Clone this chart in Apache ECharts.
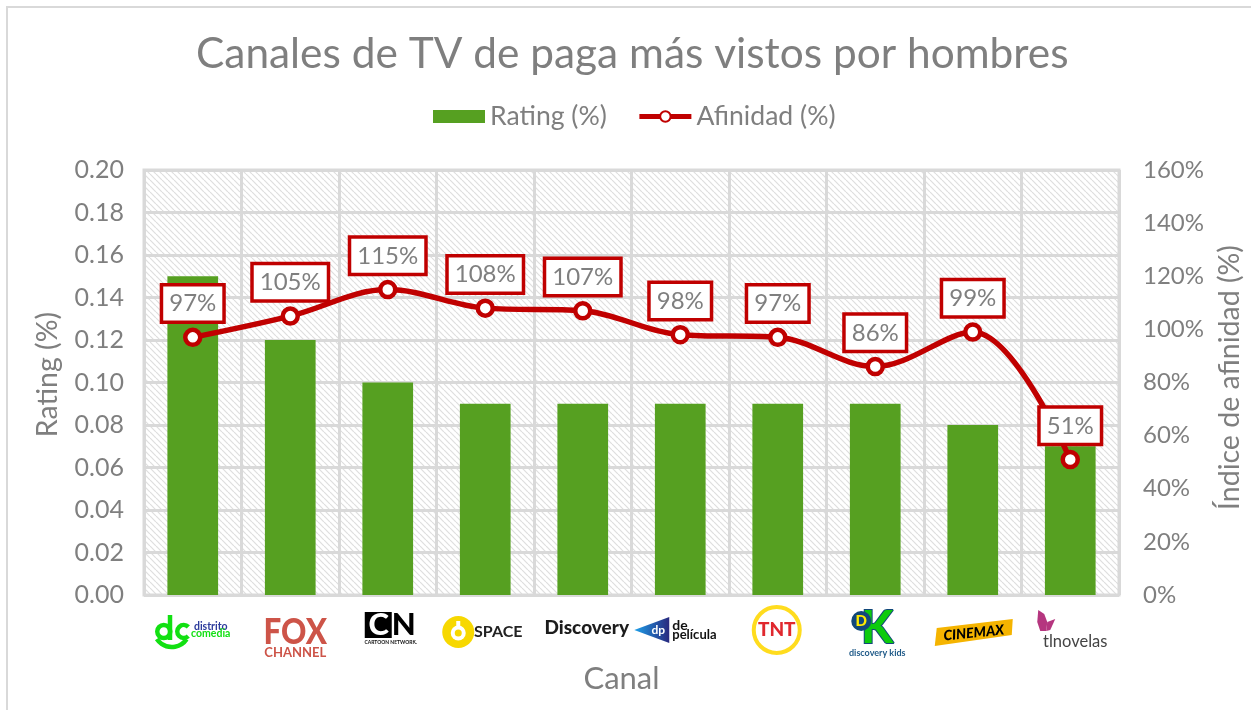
<!DOCTYPE html>
<html><head><meta charset="utf-8">
<style>html,body{margin:0;padding:0;background:#fff}#c{width:1251px;height:710px}</style>
<script src="https://cdn.jsdelivr.net/npm/echarts@6/dist/echarts.min.js"></script>
</head><body><div id="c"></div>
<script>
const categories = ['distrito comedia','FOX CHANNEL','Cartoon Network','SPACE','Discovery','de película','TNT','discovery kids','CINEMAX','tlnovelas'];
const rating = [0.15,0.12,0.10,0.09,0.09,0.09,0.09,0.09,0.08,0.07];
const afinidad = [97,105,115,108,107,98,97,86,99,51];
const FONT = 'Lato, "Open Sans", sans-serif';
const GRAY = '#7f7f7f';
const RED = '#C00000';

function hatch(){
  const s=6,c=document.createElement('canvas');c.width=s;c.height=s;
  const g=c.getContext('2d');g.fillStyle='#fff';g.fillRect(0,0,s,s);
  g.strokeStyle='#dedede';g.lineWidth=1.2;
  [[-s,0],[0,0],[s,0]].forEach(o=>{g.beginPath();g.moveTo(o[0],0);g.lineTo(o[0]+s,s);g.stroke();});
  return c;
}
const T=(text,x,y,size,fill,weight,extra)=>Object.assign({type:'text',x,y,style:Object.assign({text,fill,
  font:(weight||'normal')+' '+size+'px '+FONT,textAlign:'center',textVerticalAlign:'middle'},extra&&extra.style||{})},extra&&extra.el||{});
const C=(cx,cy,r,style)=>({type:'circle',shape:{cx,cy,r},style});
const P=(points,fill)=>({type:'polygon',shape:{points},style:{fill}});
const A=(cx,cy,r,a,b,stroke,w)=>({type:'arc',shape:{cx,cy,r,startAngle:a,endAngle:b},style:{stroke,lineWidth:w,fill:'none'}});
const R=(x,y,width,height,fill)=>({type:'rect',shape:{x,y,width,height},style:{fill}});
const DC='#12E012';
const logos=[
 ()=>[C(-29,36.5,6.5,{fill:'none',stroke:DC,lineWidth:4.5}),R(-25,20,4.5,25,DC),
      A(-9,36.5,6.5,0.8,5.5,DC,4.5),A(-21,34,18,0.6,2.55,DC,4.5),
      T('distrito',18,32,10.5,'#2B3A9B','bold'),T('comedia',18,39,10.5,DC,'bold')],
 ()=>[T('FOX',5,37,33,'#CD5448','900',{el:{scaleX:0.95,scaleY:1.1}}),T('CHANNEL',5,58,13,'#CD5448','bold')],
 ()=>[R(-23,17,27,26,'#000'),T('C',-9,30,31,'#fff','900'),T('N',16,30,31,'#000','900'),
      T('CARTOON NETWORK.',3,47,5,'#111','bold')],
 ()=>[C(-27,37,16,{fill:'#F7D800'}),C(-27,38,7.5,{fill:'#fff'}),R(-29,26,4,8,'#fff'),C(-27,38,3.5,{fill:'#F7D800'}),
      T('SPACE',13,37,16,'#222','bold')],
 ()=>[T('Discovery',4,33,19,'#1c1c1c','900')],
 ()=>[{type:'polygon',shape:{points:[[-46,35],[-11,22],[-11,48]]},
       style:{fill:new echarts.graphic.LinearGradient(0,0,1,0,[{offset:0,color:'#1EA0EA'},{offset:1,color:'#28287E'}])}},
      T('dp',-22,35,12,'#fff','bold'),
      T('de',-8,30,14,'#111','bold',{style:{textAlign:'left'}}),T('película',-8,40,13,'#111','bold',{style:{textAlign:'left'}})],
 ()=>[C(-1,35,23,{fill:'#fff',stroke:'#FFDC1E',lineWidth:4}),T('TNT',-1,35,19,'#E0282E','900')],
 ()=>[T('K',2,33,46,'#0DCB0D','900',{style:{stroke:'#12487A',lineWidth:2}}),
      C(-14,26,10,{fill:'#12487A'}),T('D',-14,26,15,'#FFEB00','900'),
      T('discovery kids',2,58,9,'#1F5A88','bold')],
 ()=>[P([[-38,51],[-36,33],[40,24],[39,40]],'#F5B400'),
      T('CINEMAX',1,38,14,'#000','900',{el:{rotation:0.1},style:{font:'italic 900 14px '+FONT}})],
 ()=>[P([[-32,15],[-26,19],[-23,27],[-24,36],[-30,36],[-33,27]],'#B5367F'),
      P([[-15,24],[-20,35],[-24,36],[-23,27]],'#B5367F'),
      T('tlnovelas',5,47,16.5,'#444','normal')]
];

const chart=echarts.init(document.getElementById('c'),null,{renderer:'canvas'});
chart.setOption({
  animation:false,
  backgroundColor:'#fff',
  graphic:[{type:'rect',z:-1,shape:{x:7,y:7,width:1400,height:900},style:{fill:'none',stroke:'#d9d9d9',lineWidth:2}}],
  title:{text:'Canales de TV de paga más vistos por hombres',left:191,top:28,
    textStyle:{fontFamily:FONT,fontSize:42.4,fontWeight:'normal',color:GRAY}},
  legend:{left:428,top:98,itemWidth:52,itemHeight:13,itemGap:30,
    data:[{name:'Rating (%)',icon:'rect'},{name:'Afinidad (%)'}],
    lineStyle:{width:5},
    textStyle:{fontFamily:FONT,fontSize:26.6,color:GRAY}},
  grid:{left:144,right:132,top:170,bottom:115,outerBoundsMode:'none',show:true,borderColor:'#d9d9d9',borderWidth:3,
    backgroundColor:{image:hatch(),repeat:'repeat'}},
  xAxis:{type:'category',data:categories,name:'Canal',nameLocation:'middle',nameGap:68,
    nameTextStyle:{fontFamily:FONT,fontSize:31,color:GRAY,padding:[0,20,0,0]},
    axisLine:{show:false},axisTick:{show:false},axisLabel:{show:false},
    splitLine:{show:true,interval:0,lineStyle:{color:'#d9d9d9',width:3}}},
  yAxis:[
   {type:'value',min:0,max:0.2,interval:0.02,name:'Rating (%)',nameLocation:'middle',nameGap:82,nameRotate:90,
    nameTextStyle:{fontFamily:FONT,fontSize:28.5,color:GRAY,padding:[0,0,0,16]},
    axisLine:{show:false},axisTick:{show:false},
    axisLabel:{margin:20,fontFamily:FONT,fontSize:25,color:GRAY,formatter:v=>v.toFixed(2)},
    splitLine:{lineStyle:{color:'#d9d9d9',width:3}}},
   {type:'value',min:0,max:160,interval:20,name:'Índice de afinidad (%)',nameLocation:'middle',nameGap:93,nameRotate:90,
    nameTextStyle:{fontFamily:FONT,fontSize:28.5,color:GRAY,padding:[0,0,0,10]},
    axisLine:{show:false},axisTick:{show:false},
    axisLabel:{margin:24,fontFamily:FONT,fontSize:24,color:GRAY,formatter:'{value}%'},
    splitLine:{show:false}}
  ],
  series:[
   {name:'Rating (%)',type:'bar',data:rating,barWidth:'52%',itemStyle:{color:'#56A021'}},
   {name:'Afinidad (%)',type:'line',yAxisIndex:1,data:afinidad,smooth:0.35,symbol:'circle',symbolSize:15,showAllSymbol:true,
    lineStyle:{color:RED,width:5.5},itemStyle:{color:'#fff',borderColor:RED,borderWidth:4.5},
    label:{show:true,position:'top',distance:7,formatter:'{c}%',fontFamily:FONT,fontSize:24,color:GRAY,
      backgroundColor:'#fff',borderColor:RED,borderWidth:3.5,padding:[5,6,5,6]}},
   {type:'custom',coordinateSystem:'cartesian2d',data:categories.map((c,i)=>[i,0]),encode:{x:0,y:1},clip:false,silent:true,z:5,
    renderItem:(p,api)=>{const i=api.value(0),pt=api.coord([i,0]);
      return {type:'group',x:pt[0],y:pt[1],children:logos[i]()};}}
  ]
});
</script></body></html>
